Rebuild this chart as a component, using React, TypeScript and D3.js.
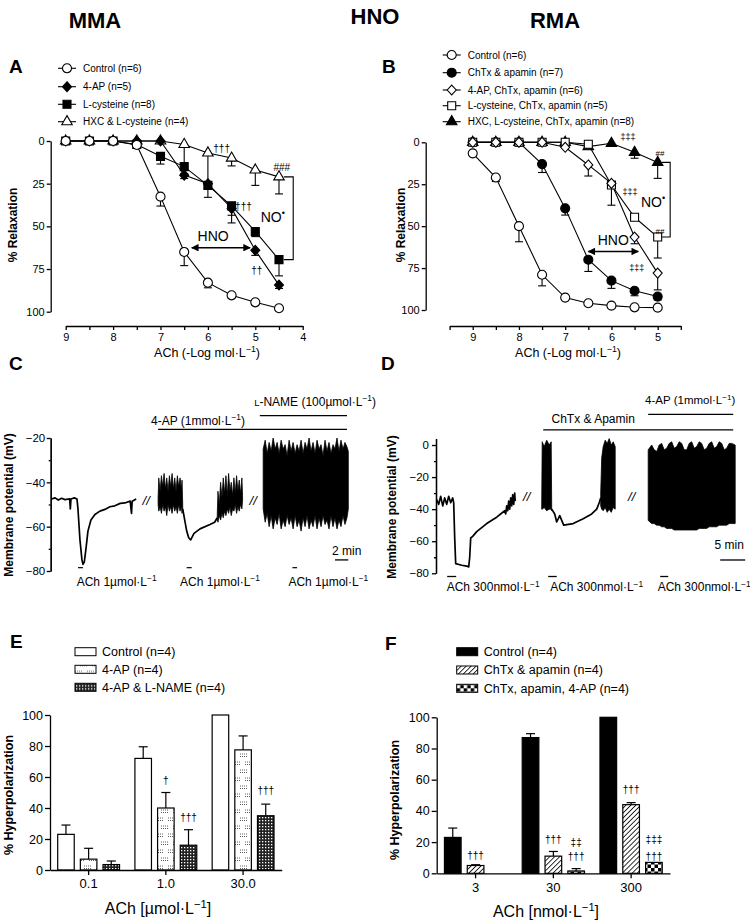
import React, { useEffect, useRef } from "react";
import * as d3 from "d3";

const FONT = "'Liberation Sans', Arial, Helvetica, sans-serif";

// ---------- A : MMA, ACh concentration-response ----------
const dosesA = [9, 8.5, 8, 7.5, 7, 6.5, 6, 5.5, 5, 4.5];
const controlA = [0, 0, 0, 2.3, 32.6, 65, 83, 90.4, 94.5, 98];
const controlAErr = [0, 0, 0, 1, 5.5, 8, 3, 1.5, 1.5, 1];
const apA = [0, 0, 0, 0, 0, 20, 25, 39.5, 64, 84.4];
const apAErr = [0, 0, 0, 0, 0, 2, 3, 4, 3, 2];
const cysA = [0, 0, 0, 2, 9, 15, 26, 38, 53, 69.5];
const cysAErr = [0, 0, 0, 1, 4.5, 4, 7, 10, 3, 9.5];
const hxcA = [0, 0, 0, 0, 0, 2, 7, 10, 17, 21];
const hxcAErr = [0, 0, 0, 0, 0, 13, 20, 4.6, 9, 10];
const legendA = ["Control (n=6)", "4-AP (n=5)", "L-cysteine (n=8)", "HXC & L-cysteine (n=4)"];

// ---------- B : RMA, ACh concentration-response ----------
const dosesB = [9, 8.5, 8, 7.5, 7, 6.5, 6, 5.5, 5];
const controlB = [6.6, 21, 50, 79, 92.6, 96, 97.4, 98.4, 98.6];
const controlBErr = [0.5, 2.4, 9.3, 6.6, 1, 1, 1, 0.5, 0.5];
const chtxB = [0, 0, 0, 13, 39.4, 70, 82.5, 88.5, 92];
const chtxBErr = [0, 0, 0, 5, 4, 7, 4.6, 3, 2];
const apChB = [0, 0, 0, 0, 3, 13.5, 24.5, 56.5, 78];
const apChBErr = [0, 0, 0, 0, 0, 6.6, 2, 4, 10];
const cysChB = [0, 0, 0, 0, 0, 1.2, 25.5, 44.7, 56.5];
const cysChBErr = [0, 0, 0, 0, 0, 0, 12, 0, 12.5];
const hxcChB = [0, 0, 0, 0, 0, 2.6, 0.6, 6, 12];
const hxcChBErr = [0, 0, 0, 0, 0, 0, 0, 3.5, 9.5];
const legendB = [
  "Control (n=6)",
  "ChTx & apamin (n=7)",
  "4-AP, ChTx, apamin (n=6)",
  "L-cysteine, ChTx, apamin (n=5)",
  "HXC, L-cysteine, ChTx, apamin (n=8)",
];

// ---------- C : MMA membrane potential (t in min, mV; bursts = [t, top, bottom]) ----------
const c1Trace = [[0, -47.5], [0.5, -47], [1, -48], [1.5, -47.2], [2, -47.8], [2.7, -47.5], [2.8, -52], [2.9, -47.5], [3.4, -47], [3.8, -47.5], [3.95, -52], [4.25, -66], [4.55, -75], [4.7, -77], [4.9, -76], [5.15, -70], [5.45, -62], [5.9, -57], [6.5, -54.5], [7.25, -53], [8, -52.2], [8.75, -51], [9.5, -50.6], [10.3, -49.5], [11, -49.3], [11.8, -48.5], [12, -54], [12.1, -48.5], [12.7, -47.5]];
const c2Burst1 = [[16, -47, -50], [16.1, -38, -53], [16.3, -44, -51], [16.5, -37, -54], [16.7, -42, -50], [16.9, -36, -53], [17.1, -43, -51], [17.3, -38, -55], [17.5, -44, -50], [17.7, -37, -53], [17.9, -42, -51], [18.1, -36, -54], [18.3, -43, -50], [18.5, -38, -53], [18.7, -44, -51], [18.9, -37, -54], [19.1, -42, -50], [19.3, -38, -53], [19.5, -43, -51], [19.6, -39, -54], [19.7, -50, -52]];
const c2Trace = [[19.7, -52], [20.3, -62], [20.6, -65], [20.9, -66], [21.4, -63], [22.3, -61], [23.8, -59], [24.5, -58], [24.9, -56]];
const c2Burst2 = [[24.9, -54, -57], [25, -44, -58], [25.2, -50, -55], [25.4, -40, -57], [25.6, -47, -54], [25.8, -38, -56], [26, -45, -53], [26.2, -37, -55], [26.4, -46, -52], [26.6, -36, -54], [26.8, -44, -51], [27, -40, -55], [27.2, -46, -52], [27.4, -38, -53], [27.6, -45, -50], [27.8, -37, -54], [28, -44, -51], [28.2, -39, -53], [28.4, -45, -50], [28.6, -38, -52], [28.7, -46, -48]];
const c3Burst = [[31.8, -25, -52], [32.1, -21, -58], [32.4, -27, -54], [32.7, -22, -60], [33, -26, -55], [33.3, -20, -61], [33.6, -25, -56], [33.9, -22, -59], [34.2, -27, -54], [34.5, -21, -61], [34.8, -25, -57], [35.1, -23, -60], [35.4, -28, -55], [35.7, -21, -59], [36, -26, -56], [36.3, -22, -61], [36.6, -27, -55], [36.9, -23, -60], [37.2, -26, -57], [37.5, -21, -62], [37.8, -27, -56], [38.1, -22, -60], [38.4, -25, -55], [38.7, -20, -61], [39, -26, -57], [39.3, -22, -60], [39.6, -27, -55], [39.9, -21, -61], [40.2, -25, -56], [40.5, -23, -60], [40.8, -28, -55], [41.1, -21, -59], [41.4, -26, -57], [41.7, -22, -61], [42, -27, -55], [42.3, -23, -60], [42.6, -25, -56], [42.9, -20, -61], [43.2, -26, -57], [43.5, -21, -60], [43.8, -25, -55], [44.1, -22, -59], [44.4, -24, -56], [44.6, -26, -52]];
const achC = [[3.95, 4.7], [20.3, 21.05], [36.2, 36.9]];

// ---------- D : RMA membrane potential ----------
const d1Trace = [[0, -34], [0.4, -37], [0.8, -32], [1.2, -38], [1.6, -33], [2, -37], [2.4, -32], [2.8, -36], [3.2, -33], [3.4, -36], [3.6, -58], [3.8, -74], [5, -75], [6, -75.5], [6.4, -76], [6.6, -70], [6.8, -58], [7.2, -57], [8, -54], [10, -49], [12, -45], [13.6, -41], [13.8, -43], [14, -38], [14.2, -41], [14.4, -35], [14.6, -40], [14.8, -33], [15, -38], [15.2, -31], [15.4, -37], [15.6, -30], [15.7, -35]];
const d2Burst1 = [[21, -38, -40], [21.1, 2, -40], [21.5, -1, -39], [22, 3, -41], [22.5, 0, -40], [22.9, 2, -40], [23, -38, -41]];
const d2Trace = [[23, -40], [23.6, -43], [24, -48], [24.6, -44], [25.4, -50], [27.3, -49], [29.3, -46], [31, -43], [32, -40], [32.5, -36], [32.8, -33]];
const d2Burst2 = [[32.8, -30, -38], [33, -8, -40], [33.3, -1, -41], [33.7, 3, -39], [34.1, 1, -42], [34.5, 4, -40], [34.9, 0, -42], [35.3, 2, -39], [35.7, -1, -40]];
const d3Burst = [[42.3, -3, -47], [43, 0, -49], [43.5, -3, -49], [44, -4, -50], [44.5, 0, -50], [45, 1, -51], [45.5, -3, -51], [46, -2, -52], [46.5, 1, -52], [47, 2, -52], [47.5, -2, -53], [48, -1, -53], [48.5, 2, -53], [49, 1, -53], [49.5, -3, -53], [50, -3, -53], [50.5, 1, -53], [51, 2, -53], [51.5, -2, -53], [52, -1, -53], [52.5, 2, -52], [53, 1, -52], [53.5, -3, -52], [54, -2, -52], [54.5, 1, -51], [55, 2, -51], [55.5, -2, -51], [56, -1, -51], [56.5, 2, -50], [57, 1, -50], [57.5, -3, -50], [58, -2, -50], [58.5, 1, -49], [59, 1, -49], [59.7, 0, -49]];
const achD = [[2.1, 3.9], [22.3, 24], [44.7, 46.3]];

// ---------- E : MMA hyperpolarization ----------
const groupsE = ["0.1", "1.0", "30.0"];
const controlE = [23, 72, 100];
const controlEErr = [6, 7.5, 0];
const apE = [7, 40, 77.5];
const apEErr = [7, 10, 9];
const lnameE = [3.5, 16, 35];
const lnameEErr = [2.3, 10, 7.5];
const legendE = ["Control (n=4)", "4-AP (n=4)", "4-AP & L-NAME (n=4)"];

// ---------- F : RMA hyperpolarization ----------
const groupsF = ["3", "30", "300"];
const controlF = [23, 87, 100];
const controlFErr = [6, 2.5, 0];
const chtxF = [5, 11, 44];
const chtxFErr = [0.5, 3, 1.3];
const apChF = [null, 1.5, 7];
const apChFErr = [0, 1.5, 0];
const legendF = ["Control (n=4)", "ChTx & apamin (n=4)", "ChTx, apamin, 4-AP (n=4)"];

const rhomb = {
  draw(ctx: any, size: number) {
    const r = Math.sqrt(size) / 1.6;
    ctx.moveTo(0, -r * 1.1);
    ctx.lineTo(r, 0);
    ctx.lineTo(0, r * 1.1);
    ctx.lineTo(-r, 0);
    ctx.closePath();
  },
};

const symsA = [
  { type: d3.symbolCircle, size: 64, fill: "#fff" },
  { type: rhomb, size: 52, fill: "#000" },
  { type: d3.symbolSquare, size: 64, fill: "#000" },
  { type: d3.symbolTriangle, size: 48, fill: "#fff" },
];
const symsB = [
  { type: d3.symbolCircle, size: 64, fill: "#fff" },
  { type: d3.symbolCircle, size: 64, fill: "#000" },
  { type: rhomb, size: 52, fill: "#fff" },
  { type: d3.symbolSquare, size: 64, fill: "#fff" },
  { type: d3.symbolTriangle, size: 48, fill: "#000" },
];

const symPath = (s: any) => d3.symbol().type(s.type).size(s.size)() as string;

function Axis({ scale, side, at, ticks, fmt, size = 4, pad = 2, fs = 11 }: any) {
  const ref = useRef<SVGGElement>(null);
  useEffect(() => {
    const ax = side === "left" ? d3.axisLeft(scale) : d3.axisBottom(scale);
    ax.tickSizeOuter(0).tickSizeInner(size).tickPadding(pad);
    if (ticks) ax.tickValues(ticks);
    if (fmt) ax.tickFormat(fmt);
    const g = d3.select(ref.current);
    g.call(ax as any);
    g.attr("font-family", FONT).attr("font-size", fs);
    g.select(".domain").attr("stroke-width", 1.3);
    g.selectAll(".tick line").attr("stroke-width", 1.3);
  });
  const tr = side === "left" ? `translate(${at},0)` : `translate(0,${at})`;
  return <g ref={ref} transform={tr} />;
}

// superscript "L−1"
function unit(pre: string, post: string, fs: number) {
  return [
    <tspan key="a">{pre}</tspan>,
    <tspan key="b" dy={-fs * 0.4} fontSize={fs * 0.7}>−1</tspan>,
    <tspan key="c" dy={fs * 0.4}>{post}</tspan>,
  ];
}

function DosePanel({ x, y, doses, values, errs, syms, order }: any) {
  const line = d3.line<number>().x((_, i) => x(doses[i])).y((v) => y(v));
  return (
    <g>
      {order.map((k: number) => (
        <path key={"l" + k} d={line(values[k]) as string} fill="none" stroke="#000" strokeWidth={1.1} />
      ))}
      {order.map((k: number) =>
        values[k].map((v: number, i: number) =>
          errs[k][i] > 0 ? (
            <g key={`e${k}-${i}`} stroke="#000" strokeWidth={1.1}>
              <line x1={x(doses[i])} x2={x(doses[i])} y1={y(v)} y2={y(v + errs[k][i])} />
              <line x1={x(doses[i]) - 4} x2={x(doses[i]) + 4} y1={y(v + errs[k][i])} y2={y(v + errs[k][i])} />
            </g>
          ) : null
        )
      )}
      {order.map((k: number) =>
        values[k].map((v: number, i: number) => (
          <path
            key={`m${k}-${i}`}
            d={symPath(syms[k])}
            transform={`translate(${x(doses[i])},${y(v)})`}
            fill={syms[k].fill}
            stroke="#000"
            strokeWidth={1.1}
          />
        ))
      )}
    </g>
  );
}

function SymLegend({ x0, ys, labels, syms }: any) {
  return (
    <g>
      {labels.map((l: string, i: number) => (
        <g key={l} transform={`translate(${x0},${ys[i]})`}>
          <line x1={-9} x2={9} stroke="#000" strokeWidth={1.1} />
          <path d={symPath(syms[i])} fill={syms[i].fill} stroke="#000" strokeWidth={1.1} />
          <text x={16} dy="0.35em" fontSize={10} fontFamily={FONT}>{l}</text>
        </g>
      ))}
    </g>
  );
}

function Trace({ x, y, lines, bursts }: any) {
  const line = d3.line<number[]>().x((d) => x(d[0])).y((d) => y(d[1]));
  const area = d3.area<number[]>().x((d) => x(d[0])).y0((d) => y(d[2])).y1((d) => y(d[1]));
  return (
    <g>
      {lines.map((l: number[][], i: number) => (
        <path key={"t" + i} d={line(l) as string} fill="none" stroke="#000" strokeWidth={1.7} strokeLinejoin="round" />
      ))}
      {bursts.map((b: number[][], i: number) => (
        <path key={"b" + i} d={area(b) as string} fill="#000" stroke="#000" strokeWidth={0.8} />
      ))}
    </g>
  );
}

function BarPanel({ x0, y, groups, values, errs, fills, ann }: any) {
  const x1 = d3
    .scaleBand()
    .domain(values.map((_: any, k: number) => String(k)))
    .range([0, x0.bandwidth()])
    .paddingInner(0.27)
    .paddingOuter(0.135);
  const bw = x1.bandwidth();
  return (
    <g>
      {values.map((vals: (number | null)[], k: number) =>
        vals.map((v, j) => {
          if (v == null) return null;
          const bx = (x0(groups[j]) as number) + (x1(String(k)) as number);
          const e = errs[k][j];
          return (
            <g key={`${k}-${j}`}>
              {e > 0 ? (
                <g stroke="#000" strokeWidth={1.2}>
                  <line x1={bx + bw / 2} x2={bx + bw / 2} y1={y(v)} y2={y(v + e)} />
                  <line x1={bx + bw / 2 - 4.5} x2={bx + bw / 2 + 4.5} y1={y(v + e)} y2={y(v + e)} />
                </g>
              ) : null}
              <rect x={bx} y={y(v)} width={bw} height={y(0) - y(v)} fill={fills[k]} stroke="#000" strokeWidth={1.2} />
            </g>
          );
        })
      )}
      {ann.map((a: any, i: number) => (
        <text
          key={"a" + i}
          x={(x0(a.g) as number) + (x1(String(a.k)) as number) + bw / 2}
          y={y(a.v)}
          dy="0.35em"
          textAnchor="middle"
          fontSize={10}
          fontFamily={FONT}
          fill="#000"
        >
          {a.t}
        </text>
      ))}
    </g>
  );
}

function BarLegend({ x0, ys, labels, fills }: any) {
  return (
    <g>
      {labels.map((l: string, i: number) => (
        <g key={l} transform={`translate(${x0},${ys[i]})`}>
          <rect x={0} y={-4} width={21} height={8} fill={fills[i]} stroke="#000" strokeWidth={1} />
          <text x={27} dy="0.35em" fontSize={12.5} fontFamily={FONT}>{l}</text>
        </g>
      ))}
    </g>
  );
}

function NO({ x, y }: any) {
  return (
    <text x={x} y={y} dy="0.35em" textAnchor="middle" fontSize={14} fontFamily={FONT}>
      NO<tspan dy={-6} fontSize={9}>•</tspan>
    </text>
  );
}

export default function App() {
  // scales A
  const xA = d3.scaleLinear().domain([9, 4]).range([65.7, 302.7]);
  const yA = d3.scaleLinear().domain([0, 100]).range([141, 311.7]);
  // scales B
  const xB = d3.scaleLinear().domain([9.5, 4.5]).range([449.6, 680.8]);
  const yB = d3.scaleLinear().domain([0, 100]).range([142.3, 310]);
  // traces
  const tC = d3.scaleLinear().domain([0, 44.6]).range([51.7, 348.3]);
  const yC = d3.scaleLinear().domain([-20, -80]).range([438, 571]);
  const tD = d3.scaleLinear().domain([0, 59.7]).range([436.7, 735.2]);
  const yD = d3.scaleLinear().domain([4, -80]).range([438.6, 573.3]);
  // bars
  const xE = d3.scaleBand().domain(groupsE).range([50, 281.7]).paddingInner(0.12).paddingOuter(0.06);
  const yE = d3.scaleLinear().domain([0, 100]).range([870, 715]);
  const xF = d3.scaleBand().domain(groupsF).range([436.7, 670]).paddingInner(0.12).paddingOuter(0.06);
  const yF = d3.scaleLinear().domain([0, 100]).range([873.3, 717.3]);

  const intFmt = (d: any) => (Number.isInteger(d) ? String(d) : "");
  const mvFmt = (d: any) => (d === 0 ? "0" : "−" + Math.abs(d));

  const fillsE = ["#fff", "url(#dots)", "url(#grid)"];
  const fillsF = ["#000", "url(#hatch)", "url(#checker)"];

  const annE = [
    { g: "1.0", k: 1, v: 58, t: "†" },
    { g: "1.0", k: 2, v: 34, t: "†††" },
    { g: "30.0", k: 2, v: 51.6, t: "†††" },
  ];
  const annF = [
    { g: "3", k: 1, v: 11.7, t: "†††" },
    { g: "30", k: 1, v: 21.8, t: "†††" },
    { g: "30", k: 2, v: 19.8, t: "‡‡" },
    { g: "30", k: 2, v: 10.6, t: "†††" },
    { g: "300", k: 1, v: 53.8, t: "†††" },
    { g: "300", k: 2, v: 21.8, t: "‡‡‡" },
    { g: "300", k: 2, v: 10.6, t: "†††" },
  ];

  const txt = (s: any) => ({ fontFamily: FONT, ...s });

  return (
    <svg width={750} height={920} style={{ position: "absolute", left: 0, top: 0, background: "#fff" }}>
      <defs>
        <marker id="arr" viewBox="0 0 10 10" refX="9" refY="5" markerWidth="6" markerHeight="5" orient="auto-start-reverse">
          <path d="M0,0L10,5L0,10z" fill="#000" />
        </marker>
        <pattern id="dots" width="12" height="16" patternUnits="userSpaceOnUse">
          <rect width="12" height="16" fill="#fff" />
          <g stroke="#333" strokeWidth={0.8} strokeDasharray="1 1">
            <line x1="0" y1="2" x2="8" y2="2" />
            <line x1="0" y1="4.5" x2="8" y2="4.5" />
            <line x1="5" y1="10" x2="12" y2="10" />
            <line x1="5" y1="12.5" x2="12" y2="12.5" />
          </g>
        </pattern>
        <pattern id="grid" width="3" height="3" patternUnits="userSpaceOnUse">
          <rect width="3" height="3" fill="#222" />
          <rect x="1" y="1" width="1.3" height="1.3" fill="#fff" />
        </pattern>
        <pattern id="hatch" width="3.5" height="3.5" patternUnits="userSpaceOnUse" patternTransform="rotate(45)">
          <rect width="3.5" height="3.5" fill="#fff" />
          <line x1="0" y1="0" x2="0" y2="3.5" stroke="#000" strokeWidth={1.6} />
        </pattern>
        <pattern id="checker" width="7" height="7" patternUnits="userSpaceOnUse">
          <rect width="7" height="7" fill="#fff" />
          <rect width="3.5" height="3.5" fill="#000" />
          <rect x="3.5" y="3.5" width="3.5" height="3.5" fill="#000" />
        </pattern>
      </defs>

      {/* titles */}
      <text x={95} y={28} textAnchor="middle" fontSize={22} fontWeight="bold" style={txt({})}>MMA</text>
      <text x={375} y={24} textAnchor="middle" fontSize={22} fontWeight="bold" style={txt({})}>HNO</text>
      <text x={555} y={28} textAnchor="middle" fontSize={22} fontWeight="bold" style={txt({})}>RMA</text>

      {/* panel letters */}
      {[["A", 9, 73], ["B", 382, 73], ["C", 9, 370], ["D", 381, 370], ["E", 10, 648], ["F", 385, 650]].map(([l, x, y]) => (
        <text key={l as string} x={x as number} y={y as number} fontSize={19} fontWeight="bold" style={txt({})}>{l}</text>
      ))}

      {/* ---------- A ---------- */}
      <SymLegend x0={67} ys={[68.3, 86.7, 104.3, 121.7]} labels={legendA} syms={symsA} />
      <Axis scale={yA} side="left" at={50.7} ticks={[0, 25, 50, 75, 100]} size={4} pad={2} fs={11} />
      <Axis scale={xA} side="bottom" at={326} ticks={d3.range(9, 3.9, -0.5)} fmt={intFmt} size={4} pad={3} fs={11} />
      <DosePanel
        x={xA}
        y={yA}
        doses={dosesA}
        values={[controlA, apA, cysA, hxcA]}
        errs={[controlAErr, apAErr, cysAErr, hxcAErr]}
        syms={symsA}
        order={[3, 2, 1, 0]}
      />
      <text x={13} y={225} transform="rotate(-90 13 225)" dy="0.35em" textAnchor="middle" fontSize={12} fontWeight="bold" style={txt({})}>% Relaxation</text>
      <text x={207} y={357} textAnchor="middle" fontSize={12.5} style={txt({})}>{unit("ACh (-Log mol·L", ")", 12.5)}</text>
      <text x={xA(5.71)} y={yA(4.3)} dy="0.35em" textAnchor="middle" fontSize={10} fill="#000" style={txt({})}>†††</text>
      <text x={xA(5.25)} y={yA(38.5)} dy="0.35em" textAnchor="middle" fontSize={10} fill="#000" style={txt({})}>†††</text>
      <text x={xA(4.97)} y={yA(75.6)} dy="0.35em" textAnchor="middle" fontSize={10} fill="#000" style={txt({})}>††</text>
      <text x={xA(4.44)} y={yA(15.4)} dy="0.35em" textAnchor="middle" fontSize={10} fill="#000" style={txt({})}>###</text>
      <NO x={xA(4.63)} y={yA(44.3)} />
      <text x={xA(5.89)} y={yA(56)} dy="0.35em" textAnchor="middle" fontSize={14} style={txt({})}>HNO</text>
      <line x1={xA(6.34)} x2={xA(5.11)} y1={yA(62.5)} y2={yA(62.5)} stroke="#000" strokeWidth={1.5} markerStart="url(#arr)" markerEnd="url(#arr)" />
      <path d={`M${xA(4.4)},${yA(21)}H${xA(4.2)}V${yA(69.5)}H${xA(4.4)}`} fill="none" stroke="#000" strokeWidth={1.1} />

      {/* ---------- B ---------- */}
      <SymLegend x0={451.7} ys={[55, 72.7, 90, 105.7, 121.7]} labels={legendB} syms={symsB} />
      <Axis scale={yB} side="left" at={425.7} ticks={[0, 25, 50, 75, 100]} size={4} pad={2} fs={11} />
      <Axis scale={xB} side="bottom" at={326} ticks={d3.range(9.5, 4.4, -0.5)} fmt={intFmt} size={4} pad={3} fs={11} />
      <DosePanel
        x={xB}
        y={yB}
        doses={dosesB}
        values={[controlB, chtxB, apChB, cysChB, hxcChB]}
        errs={[controlBErr, chtxBErr, apChBErr, cysChBErr, hxcChBErr]}
        syms={symsB}
        order={[4, 1, 3, 2, 0]}
      />
      <text x={401} y={225} transform="rotate(-90 401 225)" dy="0.35em" textAnchor="middle" fontSize={12} fontWeight="bold" style={txt({})}>% Relaxation</text>
      <text x={568} y={357} textAnchor="middle" fontSize={12.5} style={txt({})}>{unit("ACh (-Log mol·L", ")", 12.5)}</text>
      <text x={xB(5.64)} y={yB(-3.3)} dy="0.35em" textAnchor="middle" fontSize={9} fill="#000" style={txt({})}>‡‡‡</text>
      <text x={xB(5.6)} y={yB(29.4)} dy="0.35em" textAnchor="middle" fontSize={9} fill="#000" style={txt({})}>‡‡‡</text>
      <text x={xB(5.45)} y={yB(75)} dy="0.35em" textAnchor="middle" fontSize={9} fill="#000" style={txt({})}>‡‡‡</text>
      <text x={xB(4.95)} y={yB(6.5)} dy="0.35em" textAnchor="middle" fontSize={8} fill="#000" style={txt({})}>##</text>
      <text x={xB(4.95)} y={yB(53.2)} dy="0.35em" textAnchor="middle" fontSize={8} fill="#000" style={txt({})}>##</text>
      <NO x={xB(5.1)} y={yB(35.4)} />
      <text x={xB(5.96)} y={yB(58.2)} dy="0.35em" textAnchor="middle" fontSize={14} style={txt({})}>HNO</text>
      <line x1={xB(6.5)} x2={xB(5.42)} y1={yB(65.1)} y2={yB(65.1)} stroke="#000" strokeWidth={1.5} markerStart="url(#arr)" markerEnd="url(#arr)" />
      <path d={`M${xB(4.91)},${yB(12)}H${xB(4.73)}V${yB(56.5)}H${xB(4.91)}`} fill="none" stroke="#000" strokeWidth={1.1} />

      {/* ---------- C ---------- */}
      <Axis scale={yC} side="left" at={50.7} ticks={[-20, -40, -60, -80]} fmt={mvFmt} size={4} pad={1.5} fs={11.5} />
      <Axis scale={yC} side="left" at={50.7} ticks={[-30, -50, -70]} fmt={() => ""} size={2} pad={1} fs={11.5} />
      <Trace x={tC} y={yC} lines={[c1Trace, c2Trace]} bursts={[c2Burst1, c2Burst2, c3Burst]} />
      <text x={9} y={505} transform="rotate(-90 9 505)" dy="0.35em" textAnchor="middle" fontSize={12} fontWeight="bold" style={txt({})}>Membrane potential (mV)</text>
      {[14.2, 30.3].map((t) => (
        <text key={t} x={tC(t)} y={yC(-48)} dy="0.35em" textAnchor="middle" fontSize={13} fontStyle="italic" style={txt({})}>//</text>
      ))}
      <line x1={tC(16)} x2={tC(44.4)} y1={yC(-16.1)} y2={yC(-16.1)} stroke="#000" strokeWidth={1.3} />
      <text x={tC(22)} y={yC(-12.2)} dy="0.35em" textAnchor="middle" fontSize={12} style={txt({})}>{unit("4-AP (1mmol·L", ")", 12)}</text>
      <line x1={tC(31.3)} x2={tC(44.4)} y1={yC(-9.9)} y2={yC(-9.9)} stroke="#000" strokeWidth={1.3} />
      <text x={tC(39.6)} y={yC(-3.6)} dy="0.35em" textAnchor="middle" fontSize={12} style={txt({})}>
        <tspan fontSize={9.5}>L</tspan>
        {unit("-NAME (100µmol·L", ")", 12)}
      </text>
      {achC.map(([a, b]) => (
        <line key={a} x1={tC(a)} x2={tC(b)} y1={yC(-78.5)} y2={yC(-78.5)} stroke="#000" strokeWidth={1.2} />
      ))}
      {[3.76, 19.3, 35.6].map((t) => (
        <text key={t} x={tC(t)} y={yC(-85)} dy="0.35em" fontSize={12} style={txt({})}>{unit("ACh 1µmol·L", "", 12)}</text>
      ))}
      <line x1={tC(42.6)} x2={tC(44.6)} y1={yC(-75)} y2={yC(-75)} stroke="#000" strokeWidth={1.3} />
      <text x={tC(44.36)} y={yC(-71)} dy="0.35em" textAnchor="middle" fontSize={12} style={txt({})}>2 min</text>

      {/* ---------- D ---------- */}
      <Axis scale={yD} side="left" at={436} ticks={[0, -20, -40, -60, -80]} fmt={mvFmt} size={4} pad={3} fs={11.5} />
      <Axis scale={yD} side="left" at={436} ticks={[-10, -30, -50, -70]} fmt={() => ""} size={2} pad={1} fs={11.5} />
      <Trace x={tD} y={yD} lines={[d1Trace, d2Trace]} bursts={[d2Burst1, d2Burst2, d3Burst]} />
      <text x={392} y={507} transform="rotate(-90 392 507)" dy="0.35em" textAnchor="middle" fontSize={12} fontWeight="bold" style={txt({})}>Membrane potential (mV)</text>
      {[18, 39].map((t) => (
        <text key={t} x={tD(t)} y={yD(-32)} dy="0.35em" textAnchor="middle" fontSize={13} fontStyle="italic" style={txt({})}>//</text>
      ))}
      <line x1={tD(21.3)} x2={tD(59.3)} y1={yD(9.4)} y2={yD(9.4)} stroke="#000" strokeWidth={1.3} />
      <text x={tD(31.3)} y={yD(16.6)} dy="0.35em" textAnchor="middle" fontSize={12} style={txt({})}>ChTx &amp; Apamin</text>
      <line x1={tD(42.3)} x2={tD(59.3)} y1={yD(19.1)} y2={yD(19.1)} stroke="#000" strokeWidth={1.3} />
      <text x={tD(50.7)} y={yD(28)} dy="0.35em" textAnchor="middle" fontSize={11.5} style={txt({})}>{unit("4-AP (1mmol·L", ")", 11.5)}</text>
      {achD.map(([a, b]) => (
        <line key={a} x1={tD(a)} x2={tD(b)} y1={yD(-82)} y2={yD(-82)} stroke="#000" strokeWidth={1.3} />
      ))}
      {[2, 22.7, 44.2].map((t) => (
        <text key={t} x={tD(t)} y={yD(-88.7)} dy="0.35em" fontSize={12} style={txt({})}>{unit("ACh 300nmol·L", "", 12)}</text>
      ))}
      <line x1={tD(56.7)} x2={tD(61.7)} y1={yD(-71.7)} y2={yD(-71.7)} stroke="#000" strokeWidth={1.3} />
      <text x={tD(58.5)} y={yD(-62.3)} dy="0.35em" textAnchor="middle" fontSize={12} style={txt({})}>5 min</text>

      {/* ---------- E ---------- */}
      <BarLegend x0={75} ys={[651.7, 669.3, 687.3]} labels={legendE} fills={fillsE} />
      <BarPanel
        x0={xE}
        y={yE}
        groups={groupsE}
        values={[controlE, apE, lnameE]}
        errs={[controlEErr, apEErr, lnameEErr]}
        fills={fillsE}
        ann={annE}
      />
      <Axis scale={yE} side="left" at={50} ticks={[0, 20, 40, 60, 80, 100]} size={5} pad={2} fs={12.5} />
      <Axis scale={xE} side="bottom" at={870} size={5} pad={4} fs={13} />
      <text x={9} y={795} transform="rotate(-90 9 795)" dy="0.35em" textAnchor="middle" fontSize={12.5} fontWeight="bold" style={txt({})}>% Hyperpolarization</text>
      <text x={158} y={914} textAnchor="middle" fontSize={16} style={txt({})}>{unit("ACh [µmol·L", "]", 16)}</text>

      {/* ---------- F ---------- */}
      <BarLegend x0={456.7} ys={[651.7, 670, 688.3]} labels={legendF} fills={fillsF} />
      <BarPanel
        x0={xF}
        y={yF}
        groups={groupsF}
        values={[controlF, chtxF, apChF]}
        errs={[controlFErr, chtxFErr, apChFErr]}
        fills={fillsF}
        ann={annF}
      />
      <Axis scale={yF} side="left" at={436.7} ticks={[0, 20, 40, 60, 80, 100]} size={5} pad={2} fs={12.5} />
      <Axis scale={xF} side="bottom" at={873.3} size={5} pad={4} fs={13} />
      <text x={395} y={800} transform="rotate(-90 395 800)" dy="0.35em" textAnchor="middle" fontSize={12.5} fontWeight="bold" style={txt({})}>% Hyperpolarization</text>
      <text x={546} y={917} textAnchor="middle" fontSize={16} style={txt({})}>{unit("ACh [nmol·L", "]", 16)}</text>
    </svg>
  );
}
